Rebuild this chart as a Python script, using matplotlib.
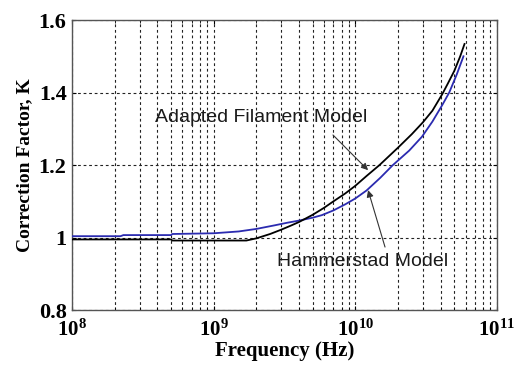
import matplotlib
matplotlib.use("Agg")
import matplotlib.pyplot as plt
from matplotlib.ticker import FixedLocator, FixedFormatter, LogLocator, NullFormatter
import numpy as np

plt.rcParams['mathtext.fontset'] = 'custom'
plt.rcParams['mathtext.rm'] = 'Liberation Serif:bold'
plt.rcParams['mathtext.bf'] = 'Liberation Serif:bold'

black_f = [1e8, 5e8, 5.1e8, 1.7e9, 2.0e9, 2.5e9, 3.0e9, 3.5e9, 4.0e9, 5.0e9, 6.0e9, 7.0e9, 8.5e9,
           1.0e10, 1.2e10, 1.48e10, 2.0e10, 2.5e10, 3.0e10, 3.5e10, 4.1e10, 4.5e10, 5.0e10, 5.5e10, 5.9e10]
black_k = [0.995, 0.995, 0.992, 0.992, 0.998, 1.010, 1.022, 1.033, 1.043, 1.063, 1.082, 1.100, 1.122,
           1.143, 1.170, 1.200, 1.248, 1.285, 1.318, 1.350, 1.395, 1.425, 1.460, 1.500, 1.534]

blue_f = [1e8, 2.2e8, 2.3e8, 5e8, 5.1e8, 1e9, 1.5e9, 2e9, 2.7e9, 3.3e9, 4e9, 5e9, 5.8e9, 7e9, 8.5e9,
          1e10, 1.2e10, 1.5e10, 1.84e10, 2.4e10, 2.95e10, 3.5e10, 4.1e10, 4.6e10, 5.2e10, 5.8e10]
blue_k = [1.004, 1.004, 1.007, 1.007, 1.010, 1.012, 1.017, 1.024, 1.034, 1.041, 1.047, 1.055, 1.062, 1.075, 1.092,
          1.108, 1.130, 1.165, 1.200, 1.240, 1.278, 1.320, 1.365, 1.400, 1.450, 1.500]

yticks = [0.8, 1.0, 1.2, 1.4, 1.6]
ytick_labels = ['0.8', '1', '1.2', '1.4', '1.6']
xticks = [1e8, 1e9, 1e10, 1e11]
xtick_labels = [r'$\mathbf{10^{8}}$', r'$\mathbf{10^{9}}$', r'$\mathbf{10^{10}}$', r'$\mathbf{10^{11}}$']

fig = plt.figure(figsize=(5.15, 3.71), dpi=100)
ax = fig.add_axes([0.140, 0.164, 0.825, 0.782])

ax.set_xscale('log')
ax.plot(blue_f, blue_k, color='#2b2bb0', lw=1.3, zorder=3)
ax.plot(black_f, black_k, color='black', lw=1.3, zorder=4)

ax.set_xlim(1e8, 1e11)
ax.set_ylim(0.8, 1.6)

ax.xaxis.set_major_locator(FixedLocator(xticks))
ax.xaxis.set_major_formatter(FixedFormatter(xtick_labels))
ax.xaxis.set_minor_locator(LogLocator(base=10, subs=np.arange(2, 10)))
ax.xaxis.set_minor_formatter(NullFormatter())
ax.yaxis.set_major_locator(FixedLocator(yticks))
ax.yaxis.set_major_formatter(FixedFormatter(ytick_labels))

ax.grid(True, which='major', axis='both', color='#222222', linestyle=(0, (2.5, 2.5)), lw=0.8)
ax.grid(True, which='minor', axis='x', color='#222222', linestyle=(0, (2.5, 2.5)), lw=0.8)

ax.tick_params(which='both', direction='in', length=3, top=True, right=True)
ax.tick_params(which='minor', length=2)
for lab in ax.get_yticklabels():
    lab.set_fontfamily('Liberation Serif')
    lab.set_fontweight('bold')
    lab.set_fontsize(16)
for lab in ax.get_xticklabels():
    lab.set_fontsize(15)
ax.tick_params(axis='x', pad=6)
ax.tick_params(axis='y', pad=4)

for s in ax.spines.values():
    s.set_color('#555555')
    s.set_linewidth(1.0)

ax.set_xlabel('Frequency (Hz)', fontfamily='Liberation Serif', fontweight='bold', fontsize=15, labelpad=1)
ax.set_ylabel('Correction Factor, K', fontfamily='Liberation Serif', fontweight='bold', fontsize=14, labelpad=4)

ax.text(3.85e8, 1.332, 'Adapted Filament Model', fontsize=14, fontfamily='Liberation Sans',
        color='#1a1a1a', ha='left', va='center')
ax.annotate('', xy=(1.23e10, 1.186), xytext=(6.95e9, 1.283),
            arrowprops=dict(arrowstyle='-|>', color='#333333', lw=0.8,
                            mutation_scale=10, shrinkA=0, shrinkB=0))
ax.text(2.8e9, 0.933, 'Hammerstad Model', fontsize=14, fontfamily='Liberation Sans',
        color='#1a1a1a', ha='left', va='center')
ax.annotate('', xy=(1.23e10, 1.131), xytext=(1.62e10, 0.974),
            arrowprops=dict(arrowstyle='-|>', color='#333333', lw=0.8,
                            mutation_scale=10, shrinkA=0, shrinkB=0))

fig.savefig('out.png', dpi=100, facecolor='white')
